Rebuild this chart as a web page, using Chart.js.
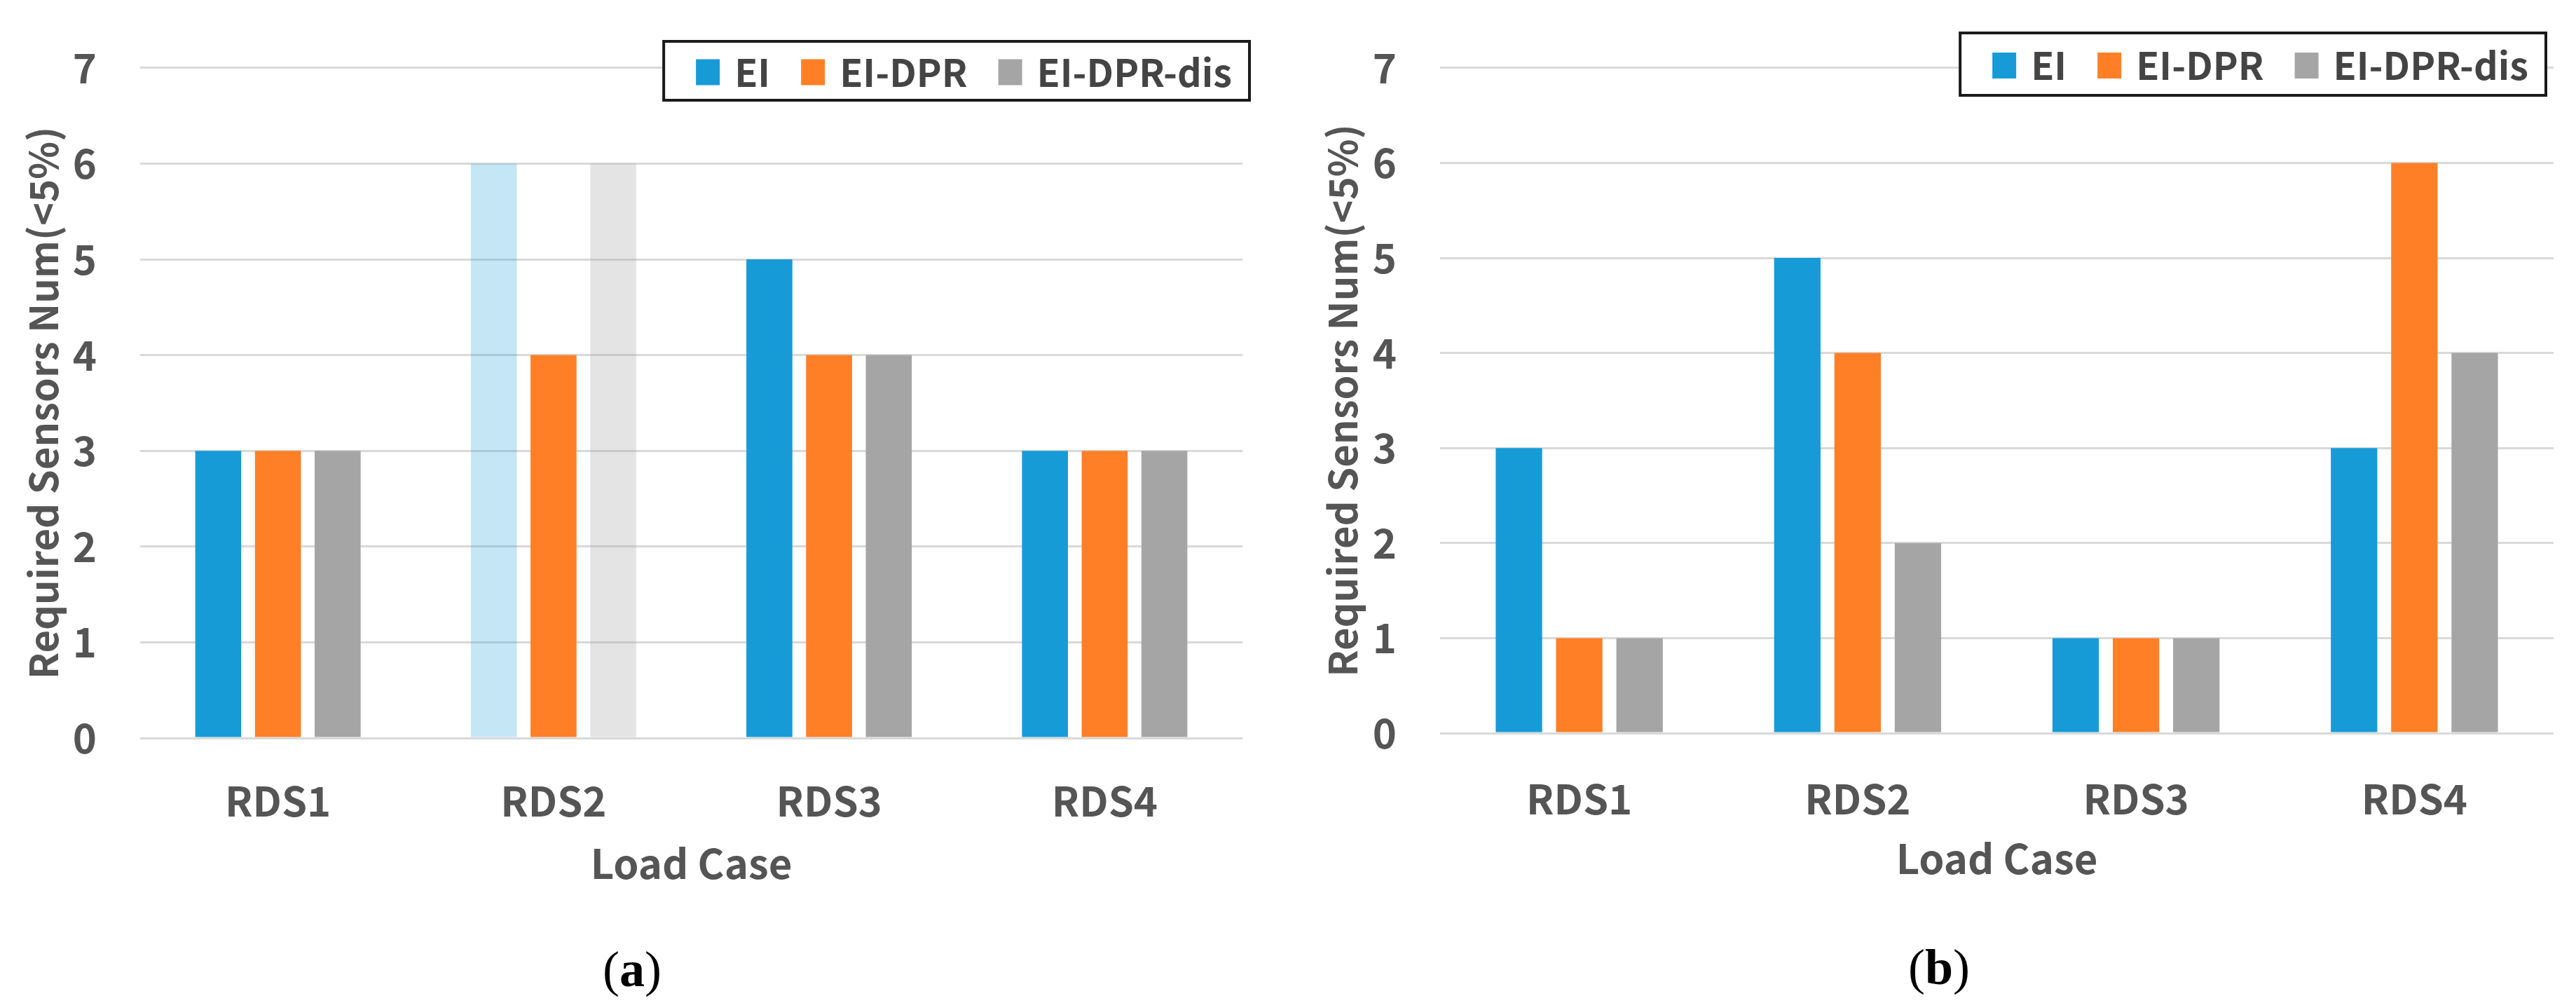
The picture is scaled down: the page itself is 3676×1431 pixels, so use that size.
<!DOCTYPE html>
<html>
<head>
<meta charset="utf-8">
<script src="https://cdn.jsdelivr.net/npm/chart.js@4.4.1/dist/chart.umd.min.js"></script>
<style>
    html, body { margin: 0; padding: 0; background: #fff; }
    body { width: 3676px; height: 1431px; position: relative; overflow: hidden; }
    canvas { position: absolute; top: 0; }
    #chart-a { left: 0; }
    #chart-b { left: 1840px; }
    .caption {
        position: absolute;
        font-family: "Liberation Serif", "Times New Roman", serif;
        font-size: 72px;
        line-height: 72px;
        color: #000;
        transform: translateX(-50%);
        white-space: nowrap;
    }
</style>
</head>
<body>
<canvas id="chart-a" width="1840" height="1300"></canvas>
<canvas id="chart-b" width="1836" height="1300"></canvas>
<div class="caption" style="left: 902px; top: 1347px;">(<b>a</b>)</div>
<div class="caption" style="left: 2767px; top: 1344px;">(<b>b</b>)</div>
<script>
// data
const categories = ["RDS1", "RDS2", "RDS3", "RDS4"];
const seriesNames = ["EI", "EI-DPR", "EI-DPR-dis"];
const yTicks = [0, 1, 2, 3, 4, 5, 6, 7];

const eiA = [3, 6, 5, 3];
const eiDprA = [3, 4, 4, 3];
const eiDprDisA = [3, 6, 4, 3];
// bars drawn faded in (a): per series, the category indexes
const fadedA = [[1], [], [1]];

const eiB = [3, 5, 1, 3];
const eiDprB = [1, 4, 1, 6];
const eiDprDisB = [1, 2, 1, 4];
const fadedB = [[], [], []];

const seriesColors = ["#179BD7", "#FF7F27", "#A5A5A5"];
const fadedColors = ["rgba(23, 155, 215, 0.25)", "rgba(255, 127, 39, 0.25)", "rgba(165, 165, 165, 0.3)"];

const FONT = "'Noto Sans CJK SC', 'Open Sans', sans-serif";
const TEXT_GREY = "#555555";

// legend in a black frame, drawn inside the plot like the Excel one
const boxLegend = {
    id: "boxLegend",
    afterDraw(chart, args, opts) {
        const ctx = chart.ctx;
        ctx.save();
        ctx.font = "bold 54px " + FONT;

        const items = chart.data.datasets.map((ds, i) => ({
            text: ds.label,
            color: seriesColors[i],
            w: ctx.measureText(ds.label).width
        }));

        const sqW = 34, sqH = 37, gapText = 21, gapItem = 44, padL = 46, padR = 25;
        let content = gapItem * (items.length - 1);
        items.forEach(it => { content += sqW + gapText + it.w; });

        const right = opts.right, top = opts.top, bottom = opts.bottom;
        const left = right - padR - content - padL;
        const cy = (top + bottom) / 2 + 2;

        ctx.fillStyle = "#fff";
        ctx.fillRect(left, top, right - left, bottom - top);
        ctx.lineWidth = 4;
        ctx.strokeStyle = "#1a1a1a";
        ctx.strokeRect(left, top, right - left, bottom - top);

        ctx.textBaseline = "middle";
        ctx.textAlign = "left";
        let x = left + padL;
        items.forEach(it => {
            ctx.fillStyle = it.color;
            ctx.fillRect(x, cy - sqH / 2, sqW, sqH);
            x += sqW + gapText;
            ctx.fillStyle = "#444444";
            ctx.fillText(it.text, x, cy);
            x += it.w + gapItem;
        });
        ctx.restore();
    }
};

const makeChart = function (canvasId, series, faded, lay) {
    const datasets = series.map((values, i) => ({
        label: seriesNames[i],
        data: values,
        backgroundColor: values.map((v, j) => faded[i].includes(j) ? fadedColors[i] : seriesColors[i]),
        borderWidth: 0,
        categoryPercentage: 0.65,
        barPercentage: 0.77
    }));

    return new Chart(document.getElementById(canvasId).getContext("2d"), {
        type: "bar",
        data: {labels: categories, datasets: datasets},
        plugins: [boxLegend],
        options: {
            responsive: false,
            devicePixelRatio: 1,
            animation: false,
            layout: {padding: {top: lay.top, right: lay.right, bottom: 0, left: 0}},
            plugins: {
                legend: {display: false},
                tooltip: {enabled: false},
                boxLegend: {right: lay.legendRight, top: lay.legendTop, bottom: lay.legendBottom}
            },
            scales: {
                x: {
                    grid: {display: false},
                    border: {display: false},
                    ticks: {
                        color: TEXT_GREY,
                        padding: lay.xTickPad,
                        font: {family: FONT, size: 58, weight: "bold", lineHeight: 1.2}
                    },
                    title: {
                        display: true,
                        text: "Load Case",
                        color: TEXT_GREY,
                        padding: {top: 0, bottom: lay.xTitlePad},
                        font: {family: FONT, size: 58, weight: "bold", lineHeight: 1.2}
                    },
                    afterFit: scale => { scale.height = lay.xHeight; }
                },
                y: {
                    min: yTicks[0],
                    max: yTicks[yTicks.length - 1],
                    afterBuildTicks: scale => { scale.ticks = yTicks.map(v => ({value: v})); },
                    grid: {color: "#D9D9D9", lineWidth: 3, drawTicks: false},
                    border: {display: false},
                    ticks: {
                        color: TEXT_GREY,
                        padding: 62,
                        font: {family: FONT, size: 58, weight: "bold", lineHeight: 1.2}
                    },
                    title: {
                        display: true,
                        text: "Required Sensors Num(<5%)",
                        color: TEXT_GREY,
                        padding: {top: lay.yTitlePad, bottom: 0},
                        font: {family: FONT, size: 56, weight: "bold", lineHeight: 1.2}
                    },
                    afterFit: scale => { scale.width = lay.yWidth; }
                }
            }
        }
    });
};

const drawAll = function () {
    makeChart("chart-a", [eiA, eiDprA, eiDprDisA], fadedA, {
        top: 52, right: 67, yWidth: 200, xHeight: 247,
        xTickPad: 47, xTitlePad: 33, yTitlePad: 28,
        legendRight: 1783, legendTop: 59, legendBottom: 143
    });
    makeChart("chart-b", [eiB, eiDprB, eiDprDisB], fadedB, {
        top: 45, right: 32, yWidth: 215, xHeight: 254,
        xTickPad: 51, xTitlePad: 40, yTitlePad: 42,
        legendRight: 1793, legendTop: 47, legendBottom: 136
    });
};

document.fonts.load("bold 58px 'Noto Sans CJK SC'").then(drawAll, drawAll);
</script>
</body>
</html>
